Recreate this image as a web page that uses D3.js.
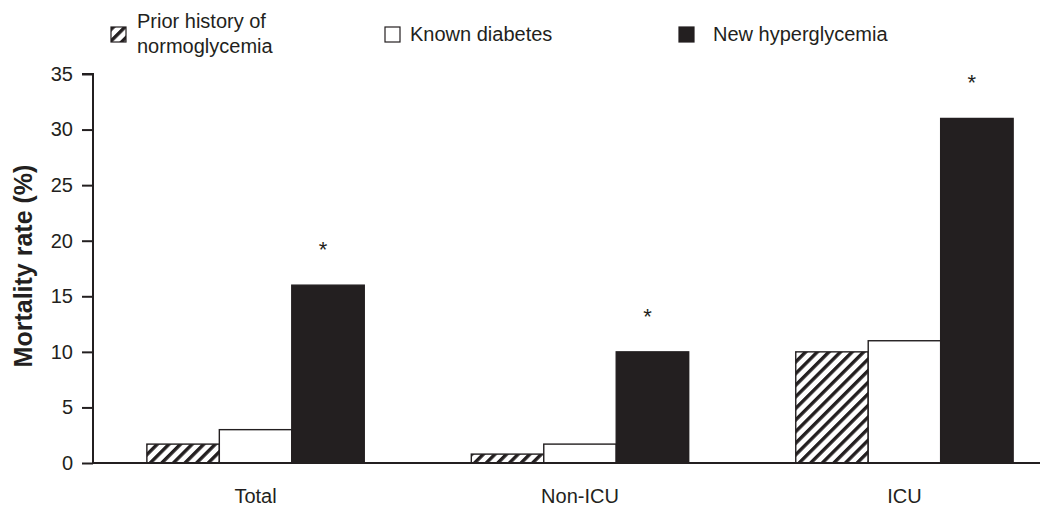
<!DOCTYPE html>
<html>
<head>
<meta charset="utf-8">
<script src="https://cdn.jsdelivr.net/npm/d3@7"></script>
<style>
  body { margin: 0; background: #fff; }
  svg { font-family: "Liberation Sans", Arial, sans-serif; display: block; }
</style>
</head>
<body>
<div id="chart"></div>
<script>
const groups = ["Total", "Non-ICU", "ICU"];
const series = ["Prior history of normoglycemia", "Known diabetes", "New hyperglycemia"];
const normoglycemia = [1.7, 0.8, 10.0];
const knownDiabetes = [3.0, 1.7, 11.0];
const newHyperglycemia = [16.0, 10.0, 31.0];
const significant = [true, true, true];
const yTicks = [0, 5, 10, 15, 20, 25, 30, 35];

const width = 1056, height = 506;
const ink = "#231f20";

const svg = d3.select("#chart").append("svg")
    .attr("width", width)
    .attr("height", height);

// hatch pattern for the first series
const defs = svg.append("defs");
const pat = defs.append("pattern")
    .attr("id", "hatch")
    .attr("patternUnits", "userSpaceOnUse")
    .attr("width", 8.2)
    .attr("height", 8.2)
    .attr("patternTransform", "rotate(45)");
pat.append("rect").attr("width", 8.2).attr("height", 8.2).attr("fill", "#fff");
pat.append("rect").attr("x", 0).attr("width", 3.4).attr("height", 8.2).attr("fill", ink);

const fills = ["url(#hatch)", "#fff", ink];

const y = d3.scaleLinear().domain([0, 35]).range([463, 74]);

const x0 = d3.scaleBand()
    .domain(groups)
    .range([130, 1030])
    .paddingInner(0.33)
    .paddingOuter(0.052);

const x1 = d3.scaleBand()
    .domain(series)
    .range([0, x0.bandwidth()]);

const rows = groups.map((g, i) => ({
    group: g,
    values: [normoglycemia[i], knownDiabetes[i], newHyperglycemia[i]],
    sig: significant[i]
}));

// bars
const gGroups = svg.selectAll("g.group")
    .data(rows)
    .enter().append("g")
    .attr("class", "group")
    .attr("transform", d => `translate(${x0(d.group)},0)`);

gGroups.selectAll("rect")
    .data(d => d.values.map((v, j) => ({ key: series[j], value: v, j })))
    .enter().append("rect")
    .attr("x", d => x1(d.key))
    .attr("y", d => y(d.value))
    .attr("width", x1.bandwidth())
    .attr("height", d => y(0) - y(d.value))
    .attr("fill", d => fills[d.j])
    .attr("stroke", ink)
    .attr("stroke-width", 1.4);

// asterisks
gGroups.filter(d => d.sig)
    .append("text")
    .attr("x", x1(series[2]) + x1.bandwidth() / 2 - 5)
    .attr("y", d => y(d.values[2]) - 28)
    .attr("text-anchor", "middle")
    .attr("font-size", 22)
    .attr("fill", ink)
    .text("*");

// y axis
const yAxis = svg.append("g")
    .attr("transform", "translate(93,0)")
    .call(d3.axisLeft(y).tickValues(yTicks).tickSize(11).tickPadding(9));
yAxis.attr("font-family", null);
yAxis.select(".domain").attr("stroke", ink).attr("stroke-width", 2)
    .attr("d", `M-11,${y(35)}H0V${y(0)}`);
yAxis.selectAll(".tick line").attr("stroke", ink).attr("stroke-width", 2);
yAxis.selectAll(".tick text").attr("font-size", 20).attr("fill", ink);

// x axis baseline
svg.append("line")
    .attr("x1", 93).attr("x2", 1040)
    .attr("y1", y(0)).attr("y2", y(0))
    .attr("stroke", ink)
    .attr("stroke-width", 2);

// x labels
svg.selectAll("text.xlab")
    .data(groups)
    .enter().append("text")
    .attr("class", "xlab")
    .attr("x", d => x0(d) + x0.bandwidth() / 2)
    .attr("y", 503)
    .attr("text-anchor", "middle")
    .attr("font-size", 20)
    .attr("fill", ink)
    .text(d => d);

// y title
svg.append("text")
    .attr("transform", "translate(32,266) rotate(-90)")
    .attr("text-anchor", "middle")
    .attr("font-size", 25)
    .attr("font-weight", "bold")
    .attr("fill", ink)
    .text("Mortality rate (%)");

// legend
const legendX = [111, 385, 679];
const legendLines = [["Prior history of", "normoglycemia"], ["Known diabetes"], ["New hyperglycemia"]];
const legend = svg.selectAll("g.legend")
    .data(series)
    .enter().append("g")
    .attr("class", "legend")
    .attr("transform", (d, i) => `translate(${legendX[i]},27)`);

legend.append("rect")
    .attr("width", 15)
    .attr("height", 15)
    .attr("fill", (d, i) => fills[i])
    .attr("stroke", ink)
    .attr("stroke-width", 1.2);

legend.each(function(d, i) {
    const lines = legendLines[i];
    const t = d3.select(this).append("text")
        .attr("font-size", 20)
        .attr("fill", ink);
    lines.forEach((ln, k) => {
        t.append("tspan")
            .attr("x", [26, 25, 34][i])
            .attr("y", lines.length > 1 ? 1 + k * 25 : 14)
            .text(ln);
    });
});
</script>
</body>
</html>
